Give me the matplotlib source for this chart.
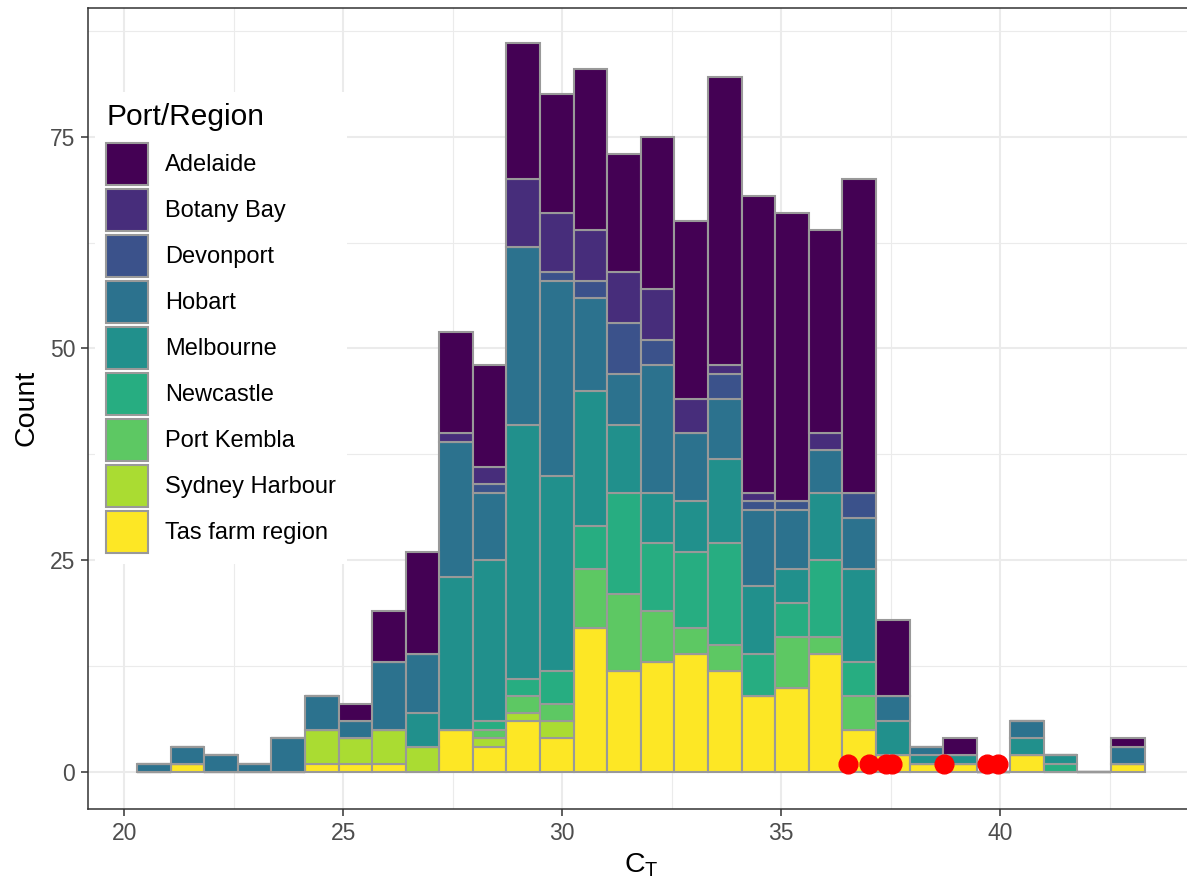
import numpy as np
import matplotlib
matplotlib.use("Agg")
import matplotlib.pyplot as plt
from matplotlib.patches import Patch

plt.rcParams['font.family'] = ['Liberation Sans', 'DejaVu Sans']
plt.rcParams['mathtext.default'] = 'regular'

# histogram bins (30 bins, constant width)
bin_start = 20.29
bin_width = 0.767
n_bins = 30

regions = ['Adelaide', 'Botany Bay', 'Devonport', 'Hobart', 'Melbourne',
           'Newcastle', 'Port Kembla', 'Sydney Harbour', 'Tas farm region']
colors = ['#440154', '#472D7B', '#3B528B', '#2C728E', '#21908C',
          '#27AD81', '#5DC863', '#AADC32', '#FDE725']

# counts per bin, one list per region
adelaide  = [0, 0, 0, 0, 0, 0, 2, 6, 12, 12, 12, 16, 14, 19, 14, 18, 21, 34, 35, 34, 24, 37, 9, 0, 2, 0, 0, 0, 0, 1]
botany    = [0, 0, 0, 0, 0, 0, 0, 0, 0, 1, 2, 8, 7, 6, 6, 6, 4, 1, 1, 0, 2, 0, 0, 0, 0, 0, 0, 0, 0, 0]
devonport = [0, 0, 0, 0, 0, 0, 0, 0, 0, 0, 1, 0, 1, 2, 6, 3, 0, 3, 1, 1, 0, 3, 0, 0, 0, 0, 0, 0, 0, 0]
hobart    = [1, 2, 2, 1, 4, 4, 2, 8, 7, 16, 8, 21, 23, 11, 6, 15, 8, 7, 9, 7, 5, 6, 3, 1, 0, 0, 2, 0, 0, 2]
melbourne = [0, 0, 0, 0, 0, 0, 0, 0, 4, 18, 19, 30, 23, 16, 8, 6, 6, 10, 8, 4, 8, 11, 4, 1, 1, 0, 2, 1, 0, 0]
newcastle = [0, 0, 0, 0, 0, 0, 0, 0, 0, 0, 1, 2, 4, 5, 12, 8, 9, 12, 5, 4, 9, 4, 0, 0, 0, 0, 0, 1, 0, 0]
kembla    = [0, 0, 0, 0, 0, 0, 0, 0, 0, 0, 1, 2, 2, 7, 9, 6, 3, 3, 0, 6, 2, 4, 0, 0, 0, 0, 0, 0, 0, 0]
sydney    = [0, 0, 0, 0, 0, 4, 3, 4, 3, 0, 1, 1, 2, 0, 0, 0, 0, 0, 0, 0, 0, 0, 0, 0, 0, 0, 0, 0, 0, 0]
tasfarm   = [0, 1, 0, 0, 0, 1, 1, 1, 0, 5, 3, 6, 4, 17, 12, 13, 14, 12, 9, 10, 14, 5, 2, 1, 1, 0, 2, 0, 0, 1]

# highlighted samples (red points)
red_x = [36.52, 37.0, 37.39, 37.53, 38.71, 39.70, 39.95]
red_y = [1, 1, 1, 1, 1, 1, 1]

counts = [adelaide, botany, devonport, hobart, melbourne,
          newcastle, kembla, sydney, tasfarm]

fig = plt.figure(figsize=(11.87, 8.82), dpi=100)
ax = fig.add_axes([87.7 / 1187, 73 / 882, (1195 - 87.7) / 1187, (809 - 7.5) / 882])

edges = bin_start + bin_width * np.arange(n_bins)
bottom = np.zeros(n_bins)
# stack from bottom (Tas farm) up to Adelaide
for name, col, vals in reversed(list(zip(regions, colors, counts))):
    vals = np.array(vals, dtype=float)
    ax.bar(edges, vals, width=bin_width, bottom=bottom, align='edge',
           color=col, edgecolor='#999999', linewidth=1.5, zorder=2)
    bottom += vals

ax.plot(red_x, red_y, 'o', color='red', ms=13.5, zorder=3)

ax.set_xlim(19.164, 44.45)
ax.set_ylim(-4.33, 90.23)
ax.set_xticks([20, 25, 30, 35, 40])
ax.set_yticks([0, 25, 50, 75])
ax.set_xticks([22.5, 27.5, 32.5, 37.5, 42.5], minor=True)
ax.set_yticks([12.5, 37.5, 62.5, 87.5], minor=True)
ax.grid(which='major', color='#EBEBEB', linewidth=1.5, zorder=0)
ax.grid(which='minor', color='#EBEBEB', linewidth=0.8, zorder=0)
ax.set_axisbelow(True)
ax.tick_params(which='major', length=5, width=1.1, color='#333333',
               labelcolor='#4D4D4D', labelsize=16.5, pad=4)
ax.tick_params(which='minor', length=0)
for s in ax.spines.values():
    s.set_color('#333333')
    s.set_linewidth(1.1)

ax.set_xlabel('$C_T$', fontsize=20.5, labelpad=5)
ax.set_ylabel('Count', fontsize=20.5, labelpad=7)

handles = [Patch(facecolor=c, edgecolor='#999999', linewidth=1.5) for c in colors]
leg = ax.legend(handles, regions, title='Port/Region', loc='upper left',
                bbox_to_anchor=(95 / 1187, 1 - 92 / 882), bbox_transform=fig.transFigure,
                borderaxespad=0, fontsize=17, title_fontsize=21.5,
                handlelength=1.78, handleheight=2.36, labelspacing=0.17,
                handletextpad=0.72, borderpad=0.47, fancybox=False,
                frameon=True, framealpha=1, alignment='left')
leg.get_frame().set_edgecolor('none')
leg.get_frame().set_facecolor('white')
leg._legend_box.sep = 8.5  # gap between title and keys

fig.savefig('out.png', dpi=100)
